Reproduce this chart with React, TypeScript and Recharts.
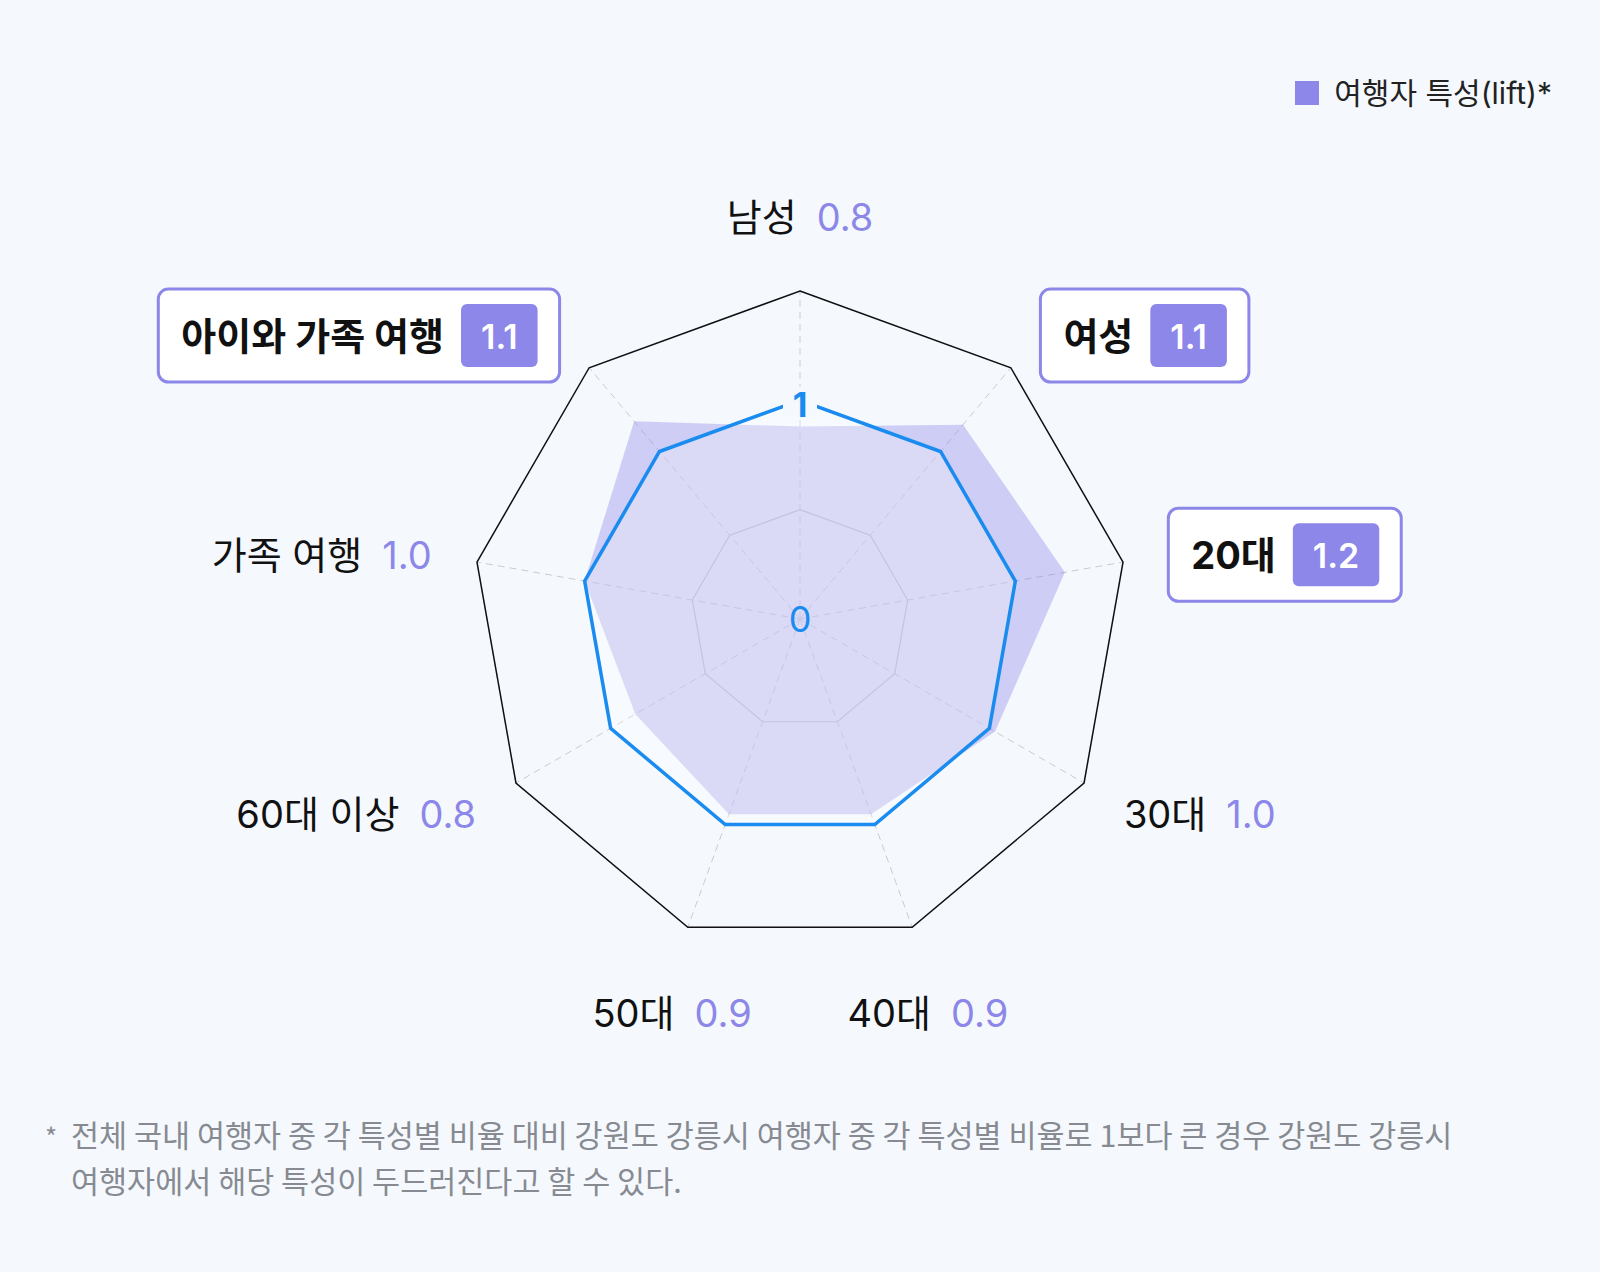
import React from 'react';
import { RadarChart, Radar, PolarGrid, PolarAngleAxis, PolarRadiusAxis, Legend } from 'recharts';

// ---------- data ----------
const categories = ['남성', '여성', '20대', '30대', '40대', '50대', '60대 이상', '가족 여행', '아이와 가족 여행'];
const liftValues = [0.88, 1.16, 1.23, 1.03, 0.95, 0.95, 0.87, 1.0, 1.18];
const liftLabels = ['0.8', '1.1', '1.2', '1.0', '0.9', '0.9', '0.8', '1.0', '1.1'];
const baselineValues = [1, 1, 1, 1, 1, 1, 1, 1, 1];
const radiusDomain: [number, number] = [0, 1.5];
const radiusTicks = [0, 1];
const innerGridLevel = 0.5;
const seriesName = '여행자 특성(lift)*';
const footnoteLines = [
  '전체 국내 여행자 중 각 특성별 비율 대비 강원도 강릉시 여행자 중 각 특성별 비율로 1보다 큰 경우 강원도 강릉시',
  '여행자에서 해당 특성이 두드러진다고 할 수 있다.',
];

const data = categories.map((name, i) => ({
  name,
  lift: liftValues[i],
  base: baselineValues[i],
}));

// ---------- style ----------
const CX = 800;
const CY = 619;
const OUTER = 328;
const FONT = "Inter, 'Noto Sans CJK KR', sans-serif";
const KFONT = "'Noto Sans CJK KR', sans-serif";
const PURPLE = '#8C87E8';
const BLUE = '#1A8BEF';
const BG = '#F5F9FE';
const LABEL_SIZE = 38;

let ctx: CanvasRenderingContext2D | null = null;
function measure(text: string, font: string): number {
  if (!ctx) ctx = document.createElement('canvas').getContext('2d');
  if (!ctx) return text.length * 30;
  ctx.font = font;
  return ctx.measureText(text).width;
}

function AngleTick(props: any) {
  const { x, y, payload } = props;
  let i = typeof props.index === 'number' ? props.index : categories.indexOf(payload.value);
  if (i < 0) i = categories.indexOf(payload.value);
  const ang = (payload.coordinate * Math.PI) / 180;
  const cos = Math.cos(ang);
  const sin = Math.sin(ang);
  let dy = -sin * 34;
  if (sin > 0.9) dy -= 32;
  else if (sin < -0.9) dy += 46;
  else if (sin < -0.3) dy += 10;
  const ax = x + 38 * cos;
  const ay = y + dy;
  const anchor = Math.abs(sin) > 0.9 ? 'middle' : cos > 0 ? 'start' : 'end';
  const name = categories[i];
  const label = liftLabels[i];
  const highlighted = Number(label) > 1;

  if (!highlighted) {
    return (
      <text x={ax} y={ay} textAnchor={anchor} dominantBaseline="central" fontFamily={FONT} fontSize={LABEL_SIZE}>
        <tspan fill="#111">{name}</tspan>
        <tspan dx={20} fill={PURPLE}>{label}</tspan>
      </text>
    );
  }

  const nameFont = `700 ${LABEL_SIZE}px ${FONT}`;
  const numFont = `600 34px ${FONT}`;
  const nameW = measure(name, nameFont);
  const numW = measure(label, numFont);
  const padL = 23;
  const gap = 17;
  const padR = 22;
  const badgeW = numW + 40;
  const boxH = 93;
  const badgeH = 63;
  const w = padL + nameW + gap + badgeW + padR;
  const bx = anchor === 'start' ? ax : anchor === 'end' ? ax - w : ax - w / 2;
  const by = ay - boxH / 2;
  const badgeX = bx + padL + nameW + gap;
  return (
    <g>
      <rect x={bx} y={by} width={w} height={boxH} rx={10} ry={10} fill="#fff" stroke={PURPLE} strokeWidth={3} />
      <text
        x={bx + padL}
        y={ay}
        dominantBaseline="central"
        fontFamily={FONT}
        fontSize={LABEL_SIZE}
        fontWeight={700}
        fill="#111"
      >
        {name}
      </text>
      <rect x={badgeX} y={ay - badgeH / 2} width={badgeW} height={badgeH} rx={6} ry={6} fill={PURPLE} />
      <text
        x={badgeX + badgeW / 2}
        y={ay + 1}
        textAnchor="middle"
        dominantBaseline="central"
        fontFamily={FONT}
        fontSize={34}
        fontWeight={600}
        fill="#fff"
      >
        {label}
      </text>
    </g>
  );
}

function RadiusTick(props: any) {
  const { x, y, payload } = props;
  const v = payload.value;
  if (!radiusTicks.includes(v)) return <g />;
  if (v === 0) {
    return (
      <text x={x} y={y} textAnchor="middle" dominantBaseline="central" fontFamily={FONT} fontSize={36} fill={BLUE}>
        {String(v)}
      </text>
    );
  }
  return (
    <g>
      <rect x={x - 17} y={y - 14} width={34} height={30} fill={BG} />
      <text
        x={x}
        y={y + 4}
        textAnchor="middle"
        dominantBaseline="central"
        fontFamily={FONT}
        fontSize={34}
        fontWeight={700}
        fill={BLUE}
      >
        {String(v)}
      </text>
    </g>
  );
}

function LegendContent(props: any) {
  const items = (props.payload || []).filter((p: any) => p.type !== 'none');
  return (
    <div style={{ display: 'flex', justifyContent: 'flex-end' }}>
      {items.map((p: any) => (
        <div key={p.value} style={{ display: 'flex', alignItems: 'center', gap: 15 }}>
          <span style={{ display: 'inline-block', width: 24, height: 24, background: PURPLE }} />
          <span style={{ fontFamily: FONT, fontSize: 30, color: '#222', lineHeight: '36px' }}>{p.value}</span>
        </div>
      ))}
    </div>
  );
}

export default function App() {
  const innerR = (OUTER * innerGridLevel) / radiusDomain[1];
  return (
    <div
      style={{
        position: 'absolute',
        left: 0,
        top: 0,
        width: 1600,
        height: 1272,
        background: BG,
        overflow: 'hidden',
      }}
    >
      <RadarChart
        width={1600}
        height={1080}
        data={data}
        cx={CX}
        cy={CY}
        outerRadius={OUTER}
        margin={{ top: 0, right: 0, bottom: 0, left: 0 }}
        startAngle={90}
        endAngle={-270}
      >
        <PolarGrid gridType="polygon" polarRadius={[OUTER]} stroke="#CACBD2" strokeDasharray="7 5" />
        <PolarGrid gridType="polygon" radialLines={false} polarRadius={[innerR]} stroke="#C4C4C8" strokeWidth={1.2} />
        <PolarGrid gridType="polygon" radialLines={false} polarRadius={[OUTER]} stroke="#111" strokeWidth={1.5} />
        <PolarAngleAxis dataKey="name" tick={<AngleTick />} tickLine={false} axisLine={false} />
        <Radar
          name={seriesName}
          dataKey="lift"
          fill={PURPLE}
          fillOpacity={0.38}
          stroke="none"
          dot={false}
          isAnimationActive={false}
        />
        <Radar
          name="기준"
          dataKey="base"
          fill="#ffffff"
          fillOpacity={0.27}
          stroke={BLUE}
          strokeWidth={3.5}
          dot={false}
          legendType="none"
          isAnimationActive={false}
        />
        <PolarRadiusAxis
          type="number"
          angle={90}
          domain={radiusDomain}
          allowDataOverflow={true}
          allowDecimals={true}
          tickCount={4}
          axisLine={false}
          tick={<RadiusTick />}
        />
        <Legend
          verticalAlign="top"
          align="right"
          content={<LegendContent />}
          wrapperStyle={{ top: 75, right: 48, left: 'auto', width: 'auto' }}
        />
      </RadarChart>
      <div
        style={{
          position: 'absolute',
          left: 45,
          top: 1111,
          fontFamily: KFONT,
          fontSize: 30.5,
          lineHeight: '46px',
          color: '#878A90',
          display: 'flex',
        }}
      >
        <span style={{ width: 26, fontSize: 26, lineHeight: '50px' }}>*</span>
        <div>
          {footnoteLines.map((l) => (
            <div key={l}>{l}</div>
          ))}
        </div>
      </div>
    </div>
  );
}
